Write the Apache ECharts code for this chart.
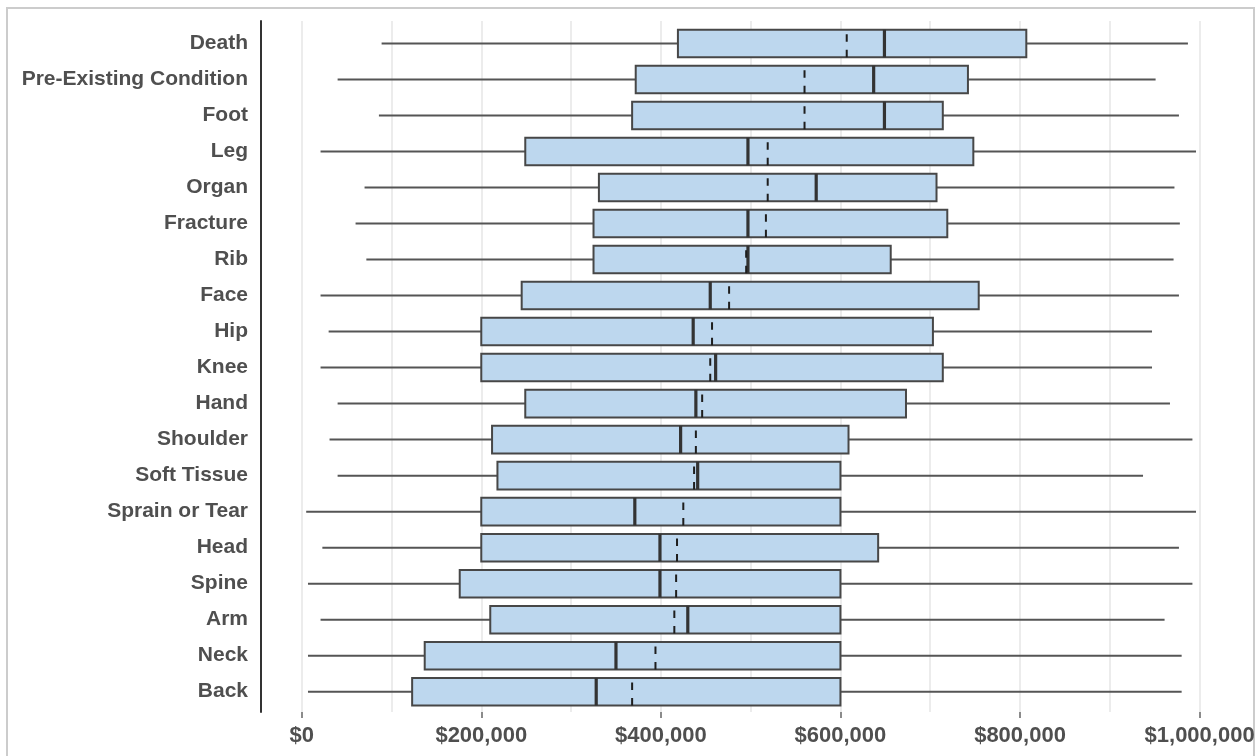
<!DOCTYPE html>
<html>
<head>
<meta charset="utf-8">
<script src="https://cdn.jsdelivr.net/npm/echarts@6/dist/echarts.min.js"></script>
<style>
  html, body { margin: 0; padding: 0; background: #ffffff; }
  #chart { width: 1258px; height: 756px; }
</style>
</head>
<body>
<div id="chart"></div>
<script>
// Claim amount distribution by injury type (top to bottom)
const categories = [
  'Death', 'Pre-Existing Condition', 'Foot', 'Leg', 'Organ', 'Fracture', 'Rib',
  'Face', 'Hip', 'Knee', 'Hand', 'Shoulder', 'Soft Tissue', 'Sprain or Tear',
  'Head', 'Spine', 'Arm', 'Neck', 'Back'
];
const mins    = [89000, 40000, 86000, 21000, 70000, 60000, 72000, 21000, 30000, 21000, 40000, 31000, 40000, 5000, 23000, 7000, 21000, 7000, 7000];
const q1s     = [419000, 372000, 368000, 249000, 331000, 325000, 325000, 245000, 200000, 200000, 249000, 212000, 218000, 200000, 200000, 176000, 210000, 137000, 123000];
const medians = [649000, 637000, 649000, 497000, 573000, 497000, 497000, 455000, 436000, 461000, 439000, 422000, 441000, 371000, 399000, 399000, 430000, 350000, 328000];
const means   = [607000, 560000, 560000, 519000, 519000, 517000, 495000, 476000, 457000, 455000, 446000, 439000, 437000, 425000, 418000, 417000, 415000, 394000, 368000];
const q3s     = [807000, 742000, 714000, 748000, 707000, 719000, 656000, 754000, 703000, 714000, 673000, 609000, 600000, 600000, 642000, 600000, 600000, 600000, 600000];
const maxes   = [987000, 951000, 977000, 996000, 972000, 978000, 971000, 977000, 947000, 947000, 967000, 992000, 937000, 996000, 977000, 992000, 961000, 980000, 980000];
const xTicks  = [0, 200000, 400000, 600000, 800000, 1000000];

const rows = categories.map((c, i) => [i, mins[i], q1s[i], medians[i], means[i], q3s[i], maxes[i]]);

const FONT = '"Liberation Sans", Arial, sans-serif';
const TEXT = '#4f4f4f';
const PLOT_LEFT = 301.7;
const PLOT_RIGHT = 58.4;

function renderBox(params, api) {
  const c = api.value(0);
  const pMin = api.coord([api.value(1), c]);
  const pQ1 = api.coord([api.value(2), c]);
  const pMed = api.coord([api.value(3), c]);
  const pMean = api.coord([api.value(4), c]);
  const pQ3 = api.coord([api.value(5), c]);
  const pMax = api.coord([api.value(6), c]);
  const band = api.size([0, 1])[1];
  const h = band * 0.765;
  const y = pMin[1];
  const top = y - h / 2, bottom = y + h / 2;
  const whisker = { stroke: '#555555', lineWidth: 2 };
  return {
    type: 'group',
    children: [
      { type: 'line', shape: { x1: pMin[0], y1: y, x2: pQ1[0], y2: y }, style: whisker },
      { type: 'line', shape: { x1: pQ3[0], y1: y, x2: pMax[0], y2: y }, style: whisker },
      { type: 'rect', shape: { x: pQ1[0], y: top, width: pQ3[0] - pQ1[0], height: h },
        style: { fill: '#bdd7ee', stroke: '#474747', lineWidth: 2 } },
      { type: 'line', shape: { x1: pMed[0], y1: top, x2: pMed[0], y2: bottom },
        style: { stroke: '#333333', lineWidth: 3.2 } },
      { type: 'line', shape: { x1: pMean[0], y1: bottom, x2: pMean[0], y2: top + 4 },
        style: { stroke: '#1e1e1e', lineWidth: 2, lineDash: [7.5, 8] } }
    ]
  };
}

const chart = echarts.init(document.getElementById('chart'), null, { renderer: 'canvas' });
chart.setOption({
  backgroundColor: '#ffffff',
  animation: false,
  graphic: [{
    type: 'rect',
    shape: { x: 7, y: 8, width: 1247, height: 760 },
    style: { fill: 'none', stroke: '#cccccc', lineWidth: 2 },
    silent: true,
    z: -10
  }],
  grid: [
    { left: PLOT_LEFT, right: PLOT_RIGHT, top: 21, bottom: 44 },
    { left: PLOT_LEFT, right: PLOT_RIGHT, top: 25.5, bottom: 46.3 }
  ],
  xAxis: [
    {
      gridIndex: 0, type: 'value', min: xTicks[0], max: xTicks[xTicks.length - 1],
      interval: xTicks[1] - xTicks[0],
      axisLine: { show: false, onZero: false },
      axisTick: { show: true, length: 6, lineStyle: { color: '#666666', width: 1.5 } },
      minorTick: { show: false, splitNumber: 2 },
      splitLine: { show: true, lineStyle: { color: '#e6e6e6', width: 1.5 } },
      minorSplitLine: { show: true, lineStyle: { color: '#e6e6e6', width: 1.5 } },
      axisLabel: {
        margin: 13, color: TEXT, fontFamily: FONT, fontWeight: 'bold', fontSize: 22,
        formatter: v => '$' + v.toLocaleString('en-US')
      }
    },
    { gridIndex: 1, type: 'value', min: xTicks[0], max: xTicks[xTicks.length - 1], show: false }
  ],
  yAxis: [
    {
      gridIndex: 0, type: 'value', min: 0, max: 1, position: 'left', offset: 40.7,
      axisLine: { show: true, onZero: false, lineStyle: { color: '#333333', width: 2 } },
      axisTick: { show: false }, axisLabel: { show: false }, splitLine: { show: false }
    },
    {
      gridIndex: 1, type: 'category', data: categories, inverse: true, position: 'left', offset: 40.7,
      axisLine: { show: false, onZero: false }, axisTick: { show: false }, splitLine: { show: false },
      axisLabel: {
        margin: 13, color: TEXT, fontFamily: FONT, fontWeight: 'bold', fontSize: 21,
        padding: [4, 0, 0, 0]
      }
    }
  ],
  series: [{
    type: 'custom',
    xAxisIndex: 1,
    yAxisIndex: 1,
    renderItem: renderBox,
    encode: { x: [1, 2, 3, 4, 5, 6], y: 0 },
    data: rows
  }]
});
</script>
</body>
</html>
